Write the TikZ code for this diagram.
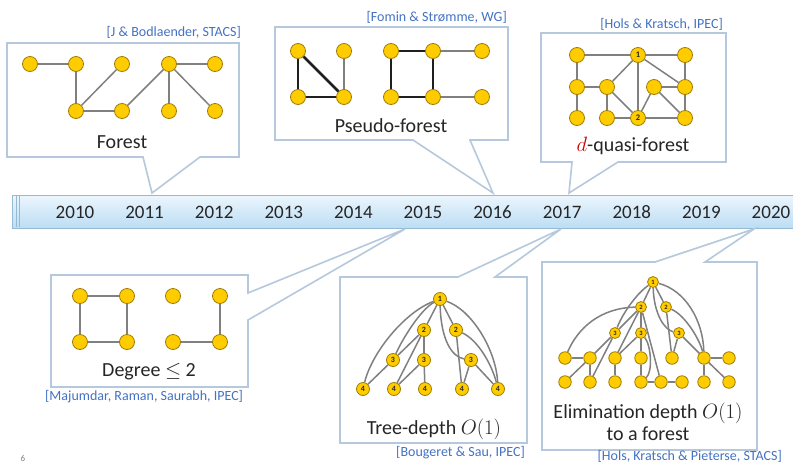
\documentclass[tikz,border=0pt]{standalone}
\usepackage{fontspec}
\setmainfont{Carlito}
\definecolor{nodeY}{RGB}{255,204,0}
\definecolor{nodeB}{RGB}{160,125,0}
\definecolor{edgeG}{RGB}{128,128,128}
\definecolor{boxC}{RGB}{182,201,220}
\definecolor{citeB}{RGB}{68,114,196}
\definecolor{txtK}{RGB}{38,38,38}
\definecolor{barTop}{RGB}{236,246,253}
\definecolor{barBot}{RGB}{188,221,244}
\definecolor{barEdge}{RGB}{150,185,212}
\definecolor{redD}{RGB}{200,0,0}
\begin{document}
\begin{tikzpicture}[x=1pt,y=-1pt,
  v/.style={circle, fill=nodeY, draw=nodeB, line width=0.8pt, minimum size=15pt, inner sep=0pt},
  vq/.style={v, font=\fontsize{8.5}{8.5}\selectfont\bfseries, text=txtK},
  vs/.style={v, minimum size=13pt, font=\fontsize{8}{8}\selectfont\bfseries, text=txtK},
  ve/.style={v, minimum size=12.5pt},
  vt/.style={v, minimum size=11pt, font=\fontsize{6.5}{6.5}\selectfont\bfseries, text=txtK},
  ed/.style={draw=edgeG, line width=1.5pt},
  thk/.style={draw=black!88, line width=2.6pt},
  callout/.style={draw=boxC, line width=1.6pt, fill=white, line join=miter},
  cite/.style={text=citeB, font=\fontsize{14}{14}\selectfont, inner sep=0pt},
  lab/.style={text=txtK, font=\fontsize{20}{22}\selectfont, inner sep=0pt, align=center},
  year/.style={text=txtK, font=\fontsize{19}{20}\selectfont, inner sep=0pt}]
\useasboundingbox (0,0) rectangle (793,464);
\fill[white] (0,0) rectangle (793,464);

% ---------- timeline bar ----------
\shade[top color=barTop, bottom color=barBot, draw=barEdge, line width=1pt] (12,195) rectangle (800,228);
\draw[barEdge, line width=0.8pt] (16,196) -- (16,227);
\draw[barEdge, line width=0.8pt] (19,196) -- (19,227);
\foreach \yr [count=\i from 0] in {2010,2011,2012,2013,2014,2015,2016,2017,2018,2019,2020}
  \node[year] (y\yr) at ({75+69.6*\i},212) {\yr};

% ---------- callouts ----------
\draw[callout] (7,43) -- (239,43) -- (239,157) -- (200,157) -- (152,193) -- (143,157) -- (7,157) -- cycle;
\draw[callout] (275,27) -- (508,27) -- (508,140) -- (470,140) -- (493,193) -- (413,140) -- (275,140) -- cycle;
\draw[callout] (541,33) -- (726,33) -- (726,162) -- (618,162) -- (569,193) -- (572,162) -- (541,162) -- cycle;
\draw[callout] (51,275) -- (248,275) -- (248,293) -- (405,229) -- (248,320) -- (248,387) -- (51,387) -- cycle;
\draw[callout] (340,277) -- (458,277) -- (561,229) -- (495,277) -- (527,277) -- (527,443) -- (340,443) -- cycle;
\draw[callout] (542,262) -- (655,262) -- (754,229) -- (705,262) -- (757,262) -- (757,450) -- (542,450) -- cycle;

% ---------- citations ----------
\node[cite, anchor=east] (c1) at (241,32) {[J \& Bodlaender, STACS]};
\node[cite, anchor=east] (c2) at (507,17) {[Fomin \& Strømme, WG]};
\node[cite, anchor=east] (c3) at (723,24) {[Hols \& Kratsch, IPEC]};
\node[cite, anchor=west] (c4) at (45,397) {[Majumdar, Raman, Saurabh, IPEC]};
\node[cite, anchor=east] (c5) at (525,453) {[Bougeret \& Sau, IPEC]};
\node[cite, anchor=east] (c6) at (782,456) {[Hols, Kratsch \& Pieterse, STACS]};

% ---------- labels ----------
\node[lab] (lf) at (122,142) {Forest};
\node[lab] (lp) at (391,126) {Pseudo-forest};
\node[lab] (lq) at (633,146) {{\color{redD}$d$}-quasi-forest};
\node[lab] (ld) at (149,372) {Degree $\leq$ 2};
\node[lab] (lt) at (434,429) {Tree-depth $O(1)$};
\node[lab] (le) at (648,422) {Elimination depth $O(1)$\\to a forest};
\node[text=gray, font=\fontsize{9}{9}\selectfont, inner sep=0pt] (pg) at (23,458) {6};

% ---------- Forest ----------
\node[v] (f1) at (30,64) {};
\node[v] (f2) at (76,64) {};
\node[v] (f3) at (122,64) {};
\node[v] (f4) at (169,64) {};
\node[v] (f5) at (215,64) {};
\node[v] (f6) at (76,111) {};
\node[v] (f7) at (122,111) {};
\node[v] (f8) at (169,111) {};
\node[v] (f9) at (215,111) {};
\draw[ed] (f1) -- (f2); \draw[ed] (f2) -- (f6); \draw[ed] (f6) -- (f3);
\draw[ed] (f6) -- (f7); \draw[ed] (f7) -- (f4); \draw[ed] (f4) -- (f5);
\draw[ed] (f4) -- (f8); \draw[ed] (f4) -- (f9);

% ---------- Pseudo-forest ----------
\node[v] (p1) at (298,51) {};
\node[v] (p2) at (344,51) {};
\node[v] (p3) at (298,97) {};
\node[v] (p4) at (344,97) {};
\node[v] (p5) at (391,51) {};
\node[v] (p6) at (433,51) {};
\node[v] (p7) at (482,51) {};
\node[v] (p8) at (391,97) {};
\node[v] (p9) at (433,97) {};
\node[v] (p10) at (482,97) {};
\draw[thk] (p1) -- (p3); \draw[thk] (p1) -- (p4); \draw[thk] (p3) -- (p4);
\draw[thk] (p5) -- (p6); \draw[thk] (p5) -- (p8); \draw[thk] (p8) -- (p9); \draw[thk] (p6) -- (p9);
\draw[ed] (p2) -- (p4); \draw[ed] (p6) -- (p7); \draw[ed] (p9) -- (p10);

% ---------- d-quasi-forest ----------
\node[v] (q1) at (577,55) {};
\node[vq] (q2) at (638,55) {1};
\node[v] (q3) at (685,55) {};
\node[v] (q4) at (577,87) {};
\node[v] (q5) at (607,87) {};
\node[v] (q6) at (654,87) {};
\node[v] (q7) at (685,87) {};
\node[v] (q8) at (577,118) {};
\node[v] (q9) at (607,118) {};
\node[vq] (q10) at (638,118) {2};
\node[v] (q11) at (685,118) {};
\draw[ed] (q1) -- (q2); \draw[ed] (q2) -- (q3); \draw[ed] (q1) -- (q4);
\draw[ed] (q4) -- (q8); \draw[ed] (q4) -- (q5); \draw[ed] (q5) -- (q2);
\draw[ed] (q5) -- (q9); \draw[ed] (q5) -- (q10); \draw[ed] (q9) -- (q10);
\draw[ed] (q2) -- (q10); \draw[ed] (q2) -- (q7); \draw[ed] (q3) -- (q7);
\draw[ed] (q6) -- (q7); \draw[ed] (q6) -- (q10); \draw[ed] (q6) -- (q11);
\draw[ed] (q7) -- (q11); \draw[ed] (q10) -- (q11);

% ---------- Degree <= 2 ----------
\node[v] (d1) at (80,296) {};
\node[v] (d2) at (127,296) {};
\node[v] (d3) at (80,342) {};
\node[v] (d4) at (127,342) {};
\node[v] (d5) at (173,296) {};
\node[v] (d6) at (220,296) {};
\node[v] (d7) at (173,342) {};
\node[v] (d8) at (220,342) {};
\draw[ed] (d1) -- (d2); \draw[ed] (d2) -- (d4); \draw[ed] (d4) -- (d3); \draw[ed] (d3) -- (d1);
\draw[ed] (d6) -- (d8); \draw[ed] (d7) -- (d8);

% ---------- Tree-depth ----------
\node[vs] (t1) at (440,299) {1};
\node[vs] (t2a) at (424,330) {2};
\node[vs] (t2b) at (456,330) {2};
\node[vs] (t3a) at (393,360) {3};
\node[vs] (t3b) at (424,360) {3};
\node[vs] (t3c) at (471,360) {3};
\node[vs] (t4a) at (363,389) {4};
\node[vs] (t4b) at (394,389) {4};
\node[vs] (t4c) at (425,389) {4};
\node[vs] (t4d) at (462,389) {4};
\node[vs] (t4e) at (498,389) {4};
\draw[ed] (t1) -- (t2a); \draw[ed] (t1) -- (t2b);
\draw[ed] (t1) .. controls (420,310) and (402,340) .. (t3a);
\draw[ed] (t1) .. controls (405,312) and (372,352) .. (t4a);
\draw[ed] (t1) .. controls (472,310) and (496,350) .. (t4e);
\draw[ed] (t1) .. controls (441,340) and (452,357) .. (t3c);
\draw[ed] (t2a) -- (t3a); \draw[ed] (t2a) -- (t3b); \draw[ed] (t2a) -- (t4b);
\draw[ed] (t3a) -- (t4a); \draw[ed] (t3b) -- (t4b); \draw[ed] (t3b) -- (t4c);
\draw[ed] (t2b) -- (t4d);
\draw[ed] (t2b) .. controls (478,340) and (492,365) .. (t4e);
\draw[ed] (t3c) -- (t4d); \draw[ed] (t3c) -- (t4e);

% ---------- Elimination depth ----------
\node[vt] (e1) at (653,282) {1};
\node[vt] (ea2) at (641,307) {2};
\node[vt] (eb2) at (666,307) {2};
\node[vt] (ea3) at (615,333) {3};
\node[vt] (eb3) at (641,333) {3};
\node[vt] (ec3) at (679,333) {3};
\node[ve] (ep1) at (565,358) {};
\node[ve] (ep2) at (590,358) {};
\node[ve] (ep3) at (615,358) {};
\node[ve] (ep4) at (641,358) {};
\node[ve] (ep5) at (672,358) {};
\node[ve] (ep6) at (704,358) {};
\node[ve] (ep7) at (729,358) {};
\node[ve] (eq1) at (565,382) {};
\node[ve] (eq2) at (590,382) {};
\node[ve] (eq3) at (615,382) {};
\node[ve] (eq4) at (641,382) {};
\node[ve] (eq5) at (661,382) {};
\node[ve] (eq6) at (682,382) {};
\node[ve] (eq7) at (704,382) {};
\node[ve] (eq8) at (729,382) {};
\draw[ed] (e1) -- (ea2); \draw[ed] (e1) -- (eb2);
\draw[ed] (e1) .. controls (635,295) and (622,315) .. (ea3);
\draw[ed] (e1) .. controls (654,315) and (665,330) .. (ec3);
\draw[ed] (e1) .. controls (685,290) and (703,320) .. (ep6);
\draw[ed] (ep1) .. controls (578,328) and (600,308) .. (ea2);
\draw[ed] (ea2) -- (ea3); \draw[ed] (ea2) -- (eb3); \draw[ed] (ea2) -- (ep3);
\draw[ed] (ea2) -- (eq5);
\draw[ed] (ea3) -- (ep2); \draw[ed] (ea3) -- (eq2);
\draw[ed] (eb3) -- (ep3); \draw[ed] (eb3) -- (ep4);
\draw[ed] (eb3) .. controls (651,345) and (653,372) .. (eq4);
\draw[ed] (eb2) -- (ep5);
\draw[ed] (eb2) .. controls (685,315) and (700,340) .. (ep6);
\draw[ed] (ec3) -- (ep5); \draw[ed] (ec3) -- (ep6);
\draw[ed] (ep1) -- (ep2); \draw[ed] (eq1) -- (ep2); \draw[ed] (ep2) -- (eq2);
\draw[ed] (ep3) -- (eq3); \draw[ed] (ep4) -- (eq4); \draw[ed] (eq4) -- (eq5);
\draw[ed] (eq5) -- (eq6); \draw[ed] (ep6) -- (ep7); \draw[ed] (ep6) -- (eq7);
\draw[ed] (ep6) -- (eq8);
\end{tikzpicture}
\end{document}
